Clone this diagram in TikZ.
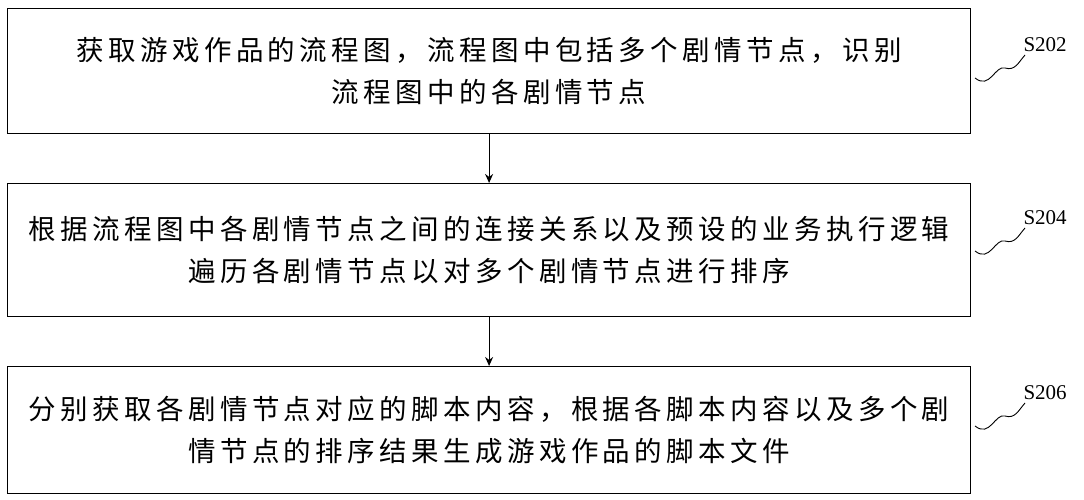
\documentclass[tikz,border=0pt]{standalone}
\usepackage{fontspec}
\setmainfont{Liberation Serif}
\newfontfamily\cjk[LetterSpace=16]{Noto Sans CJK SC}
\usetikzlibrary{arrows.meta}
\begin{document}
\begin{tikzpicture}[x=1pt,y=-1pt,
  stepbox/.style={draw,line width=1.2pt,minimum width=963pt,anchor=north west,align=center,font=\cjk\fontsize{27.5}{42}\selectfont,inner sep=0pt},
  lab/.style={font=\fontsize{21}{22}\selectfont,anchor=west},
  conn/.style={line width=1.2pt,-{Stealth[length=9pt,width=8pt]}}]
\useasboundingbox (0,0) rectangle (1084,500);
\node[stepbox,minimum height=125pt] (b1) at (7,8) {获取游戏作品的流程图，流程图中包括多个剧情节点，识别\\流程图中的各剧情节点};
\node[stepbox,minimum height=133pt] (b2) at (7,183) {根据流程图中各剧情节点之间的连接关系以及预设的业务执行逻辑\\遍历各剧情节点以对多个剧情节点进行排序};
\node[stepbox,minimum height=127pt] (b3) at (7,366) {分别获取各剧情节点对应的脚本内容，根据各脚本内容以及多个剧\\情节点的排序结果生成游戏作品的脚本文件};
\draw[conn] (b1.south) -- (b2.north);
\draw[conn] (b2.south) -- (b3.north);
\node[lab] (l1) at (1020,45) {S202};
\node[lab] (l2) at (1020,218) {S204};
\node[lab] (l3) at (1020,393) {S206};
\foreach \y/\n in {45/1,218/2,393/3}{
  \draw[line width=0.9pt] (975,\y+33) .. controls (990,\y+45) and (995,\y+20) .. (1005,\y+23) .. controls (1015,\y+26) and (1018,\y+18) .. (1025,\y+10);
}
\end{tikzpicture}
\end{document}
